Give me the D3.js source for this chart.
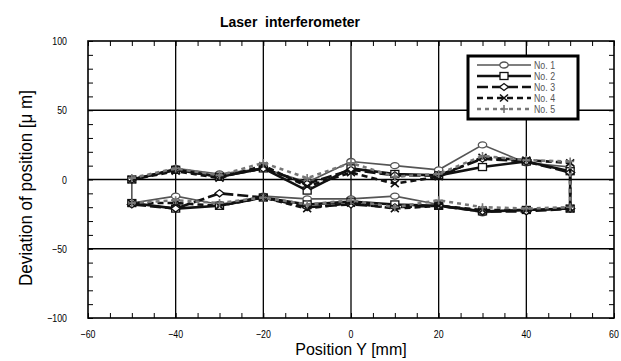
<!DOCTYPE html>
<html>
<head>
<meta charset="utf-8">
<script src="https://cdn.jsdelivr.net/npm/d3@7"></script>
<style>
  body { margin: 0; background: #fff; }
  text { font-family: "Liberation Sans", Arial, sans-serif; }
</style>
</head>
<body>
<svg id="chart" width="621" height="361"></svg>
<script>
// positions along Y axis [mm]
const positions = [-50, -40, -30, -20, -10, 0, 10, 20, 30, 40, 50];
// forward run (upper branch) and return run (lower branch), deviation [um]
const no1Fwd = [0, 8, 4, 8, -2, 13, 10, 7, 25, 12, 9];
const no1Ret = [-17, -12, -18, -12, -14, -14, -12, -18, -24, -22, -21];
const no2Fwd = [0, 7, 2, 8, -8, 8, 4, 3, 9, 13, 6];
const no2Ret = [-17, -21, -19, -13, -18, -16, -18, -19, -23, -22, -21];
const no3Fwd = [0, 7, 2, 8, -3, 7, 3, 3, 15, 13, 5];
const no3Ret = [-18, -21, -10, -13, -20, -18, -20, -19, -23, -23, -21];
const no4Fwd = [0, 6, 1, 10, -5, 5, -3, 2, 16, 14, 12];
const no4Ret = [-17, -17, -19, -13, -21, -17, -21, -19, -22, -22, -21];
const no5Fwd = [1, 8, 3, 12, 1, 12, 2, 4, 17, 14, 13];
const no5Ret = [-17, -15, -17, -13, -18, -15, -20, -15, -20, -21, -20];
const seriesNames = ['No. 1', 'No. 2', 'No. 3', 'No. 4', 'No. 5'];
const xTicks = [-60, -40, -20, 0, 20, 40, 60];
const yTicks = [-100, -50, 0, 50, 100];

const fwd = [no1Fwd, no2Fwd, no3Fwd, no4Fwd, no5Fwd];
const ret = [no1Ret, no2Ret, no3Ret, no4Ret, no5Ret];
const styles = [
  { color: '#555', width: 1.6, dash: null, marker: 'circle', closed: true },
  { color: '#111', width: 2.6, dash: null, marker: 'square', closed: false },
  { color: '#111', width: 2.6, dash: '11,4', marker: 'diamond', closed: false },
  { color: '#111', width: 2.6, dash: '6,4', marker: 'cross', closed: false },
  { color: '#777', width: 2.6, dash: '4,4', marker: 'plus', closed: false }
];

const svg = d3.select('#chart');
const pLeft = 88, pRight = 614, pTop = 41, pBottom = 318;

const x = d3.scaleLinear().domain([-60, 60]).range([pLeft, pRight]);
const y = d3.scaleLinear().domain([-100, 100]).range([pBottom, pTop]);

// grid lines
const g = svg.append('g');
g.selectAll('.vg').data([-40, -20, 0, 20, 40]).enter().append('line')
  .attr('x1', d => x(d)).attr('x2', d => x(d))
  .attr('y1', pTop).attr('y2', pBottom)
  .attr('stroke', '#000').attr('stroke-width', 1.3);
g.selectAll('.hg').data([-50, 0, 50]).enter().append('line')
  .attr('x1', pLeft).attr('x2', pRight)
  .attr('y1', d => y(d)).attr('y2', d => y(d))
  .attr('stroke', '#000').attr('stroke-width', 1.3);

// axes with inward ticks
const axisStyle = sel => {
  sel.select('.domain').remove();
  sel.selectAll('line').attr('stroke', '#000').attr('stroke-width', 1);
};
const minorX = d3.range(-60, 61, 5);
const minorY = d3.range(-100, 101, 10);
svg.append('g').attr('transform', `translate(0,${pBottom})`)
  .call(d3.axisTop(x).tickValues(minorX).tickSize(5).tickFormat(''))
  .call(axisStyle);
svg.append('g').attr('transform', `translate(0,${pTop})`)
  .call(d3.axisBottom(x).tickValues(minorX).tickSize(5).tickFormat(''))
  .call(axisStyle);
svg.append('g').attr('transform', `translate(${pLeft},0)`)
  .call(d3.axisRight(y).tickValues(minorY).tickSize(5).tickFormat(''))
  .call(axisStyle);
svg.append('g').attr('transform', `translate(${pRight},0)`)
  .call(d3.axisLeft(y).tickValues(minorY).tickSize(5).tickFormat(''))
  .call(axisStyle);

svg.append('rect')
  .attr('x', pLeft).attr('y', pTop)
  .attr('width', pRight - pLeft).attr('height', pBottom - pTop)
  .attr('fill', 'none').attr('stroke', '#000').attr('stroke-width', 1.6);

// tick labels (narrow digits, squeezed horizontally)
const fmt = d => (d < 0 ? '\u2212' + Math.abs(d) : d);
svg.append('g').selectAll('text').data(xTicks).enter().append('text')
  .attr('transform', d => `translate(${x(d)},338) scale(0.8,1)`)
  .attr('text-anchor', 'middle').attr('font-size', 11)
  .text(fmt);
svg.append('g').selectAll('text').data(yTicks).enter().append('text')
  .attr('transform', d => `translate(67,${y(d) + 4}) scale(0.8,1)`)
  .attr('text-anchor', 'end').attr('font-size', 11)
  .text(fmt);

// titles
svg.append('text').attr('x', 290).attr('y', 27)
  .attr('text-anchor', 'middle').attr('font-size', 14).attr('font-weight', 'bold')
  .style('white-space', 'pre')
  .text('Laser  interferometer');
svg.append('text').attr('x', 351).attr('y', 355)
  .attr('text-anchor', 'middle').attr('font-size', 16)
  .text('Position Y [mm]');
svg.append('text')
  .attr('transform', 'translate(32,188) rotate(-90)')
  .attr('text-anchor', 'middle').attr('font-size', 19)
  .attr('textLength', 196).attr('lengthAdjust', 'spacingAndGlyphs')
  .text('Deviation of position [\u03bc m]');

// markers
function drawMarker(sel, type, color) {
  if (type === 'circle') {
    sel.append('ellipse').attr('rx', 4.2).attr('ry', 3)
      .attr('fill', '#fff').attr('stroke', color).attr('stroke-width', 1.3);
  } else if (type === 'square') {
    sel.append('rect').attr('x', -4).attr('y', -3.5).attr('width', 8).attr('height', 7)
      .attr('fill', '#fff').attr('stroke', color).attr('stroke-width', 1.3);
  } else if (type === 'diamond') {
    sel.append('path').attr('d', 'M-4.5,0L0,-3.5L4.5,0L0,3.5Z')
      .attr('fill', '#fff').attr('stroke', color).attr('stroke-width', 1.3);
  } else if (type === 'cross') {
    sel.append('path').attr('d', 'M-4,-3.5L4,3.5M-4,3.5L4,-3.5')
      .attr('stroke', color).attr('stroke-width', 1.6);
  } else {
    sel.append('path').attr('d', 'M-4,0L4,0M0,-4L0,4')
      .attr('stroke', color).attr('stroke-width', 1.6);
  }
}

const line = d3.line().x(d => x(d[0])).y(d => y(d[1]));
const plot = svg.append('g');
styles.forEach((s, i) => {
  const pts = positions.map((p, k) => [p, fwd[i][k]])
    .concat(positions.map((p, k) => [p, ret[i][k]]).reverse());
  plot.append('path')
    .attr('d', s.closed ? line.curve(d3.curveLinearClosed)(pts) : line.curve(d3.curveLinear)(pts))
    .attr('fill', 'none')
    .attr('stroke', s.color)
    .attr('stroke-width', s.width)
    .attr('stroke-dasharray', s.dash);
  plot.append('g').selectAll('g').data(pts).enter().append('g')
    .attr('transform', d => `translate(${x(d[0])},${y(d[1])})`)
    .each(function () { drawMarker(d3.select(this), s.marker, s.color); });
});

// legend
const lg = svg.append('g');
lg.append('rect').attr('x', 468).attr('y', 56).attr('width', 110).attr('height', 63)
  .attr('fill', '#fff').attr('stroke', '#000').attr('stroke-width', 3);
styles.forEach((s, i) => {
  const ly = 65 + i * 11;
  lg.append('line').attr('x1', 477).attr('x2', 531).attr('y1', ly).attr('y2', ly)
    .attr('stroke', s.color).attr('stroke-width', s.width).attr('stroke-dasharray', s.dash);
  drawMarker(lg.append('g').attr('transform', `translate(504,${ly})`), s.marker, s.color);
  lg.append('text').attr('transform', `translate(534,${ly + 4}) scale(0.8,1)`)
    .attr('font-size', 11).attr('fill', '#555')
    .text(seriesNames[i]);
});
</script>
</body>
</html>
